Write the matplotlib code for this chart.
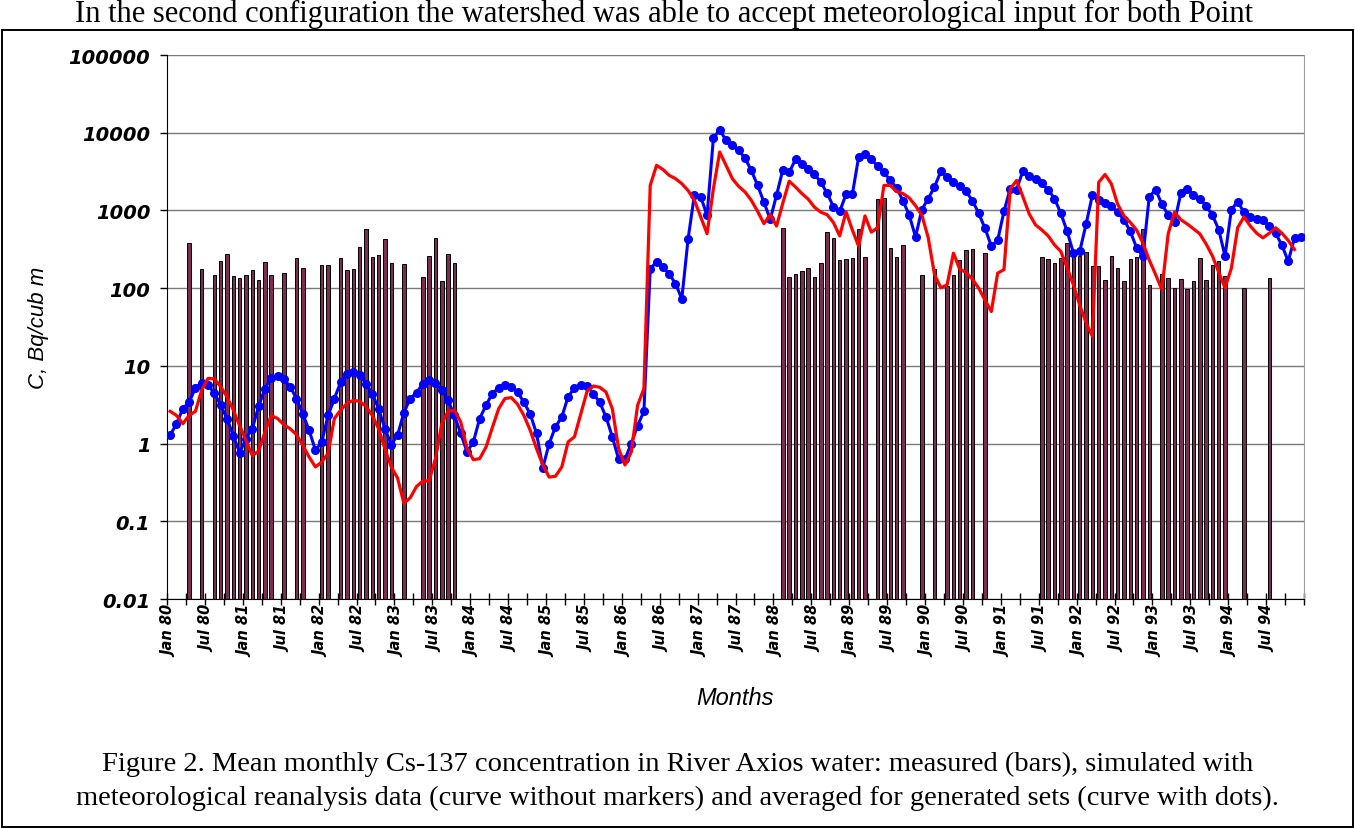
import matplotlib.pyplot as plt
from matplotlib.patches import Rectangle
import numpy as np

# month index: 0 = Jan 80 ... 179 = Dec 94
# averaged for generated sets (blue curve with dots), Bq/cub m
blue_avg = [1.28, 1.8, 2.8, 3.4, 5.2, 6.1, 5.6, 4.5, 3.1, 2.1, 1.26, 0.76,
            1.16, 1.56, 3.0, 5.1, 7.0, 7.4, 6.7, 5.4, 3.8, 2.4, 1.48, 0.82,
            1.05, 2.3, 3.8, 6.2, 7.9, 8.4, 7.6, 5.9, 4.4, 2.8, 1.56, 0.97,
            1.28, 2.5, 3.8, 4.5, 5.9, 6.5, 6.0, 4.9, 3.6, 2.3, 1.35, 0.78,
            1.05, 2.1, 3.1, 4.4, 5.2, 5.6, 5.4, 4.6, 3.4, 2.4, 1.35, 0.49,
            1.0, 1.64, 2.2, 4.0, 5.2, 5.6, 5.5, 4.4, 3.4, 2.2, 1.22, 0.63,
            0.63, 1.0, 1.7, 2.6, 178, 217, 187, 153, 114, 73, 433, 1600,
            1490, 865, 8550, 10900, 7960, 6870, 5920, 4720, 3270, 2100, 1280, 767,
            1575, 3350, 3080, 4540, 3940, 3420, 2940, 2300, 1670, 1117, 972, 1614,
            1614, 4890, 5270, 4540, 3730, 3100, 2430, 1955, 1340, 871, 457, 1025,
            1417, 1997, 3180, 2700, 2300, 2060, 1760, 1340, 922, 586, 349, 411,
            972, 1915, 1855, 3230, 2800, 2560, 2230, 1855, 1417, 922, 537, 282,
            297, 665, 1575, 1343, 1244, 1140, 941, 759, 537, 331, 258, 1493,
            1855, 1203, 871, 703, 1667, 1915, 1575, 1417, 1140, 871, 567, 258,
            1025, 1300, 941, 826, 783, 743, 630, 510, 357, 222, 443, 457]

# simulated with reanalysis data (red curve, no markers), ends Nov 94
red_sim = [2.6, 2.3, 1.8, 2.3, 2.6, 4.9, 6.9, 6.8, 5.4, 4.0, 2.7, 1.7,
           1.1, 0.7, 0.8, 1.4, 2.3, 2.1, 1.75, 1.55, 1.3, 0.95, 0.67, 0.5,
           0.58, 0.75, 2.1, 2.7, 3.3, 3.6, 3.5, 3.0, 2.3, 1.55, 0.86, 0.5,
           0.36, 0.17, 0.2, 0.28, 0.33, 0.33, 0.64, 1.8, 2.6, 2.7, 1.9, 0.86,
           0.62, 0.64, 0.9, 1.6, 2.8, 3.8, 3.9, 3.2, 2.3, 1.48, 0.86, 0.53,
           0.37, 0.38, 0.5, 1.05, 1.22, 2.4, 4.7, 5.5, 5.3, 4.6, 2.8, 0.86,
           0.53, 0.78, 3.1, 5.1, 2100, 3800, 3370, 2830, 2560, 2210, 1800, 1350,
           820, 502, 1900, 5650, 3800, 2560, 2040, 1730, 1350, 973, 676, 880,
           630, 1250, 2380, 2000, 1650, 1400, 1100, 950, 880, 700, 470, 960,
           560, 345, 850, 525, 600, 2100, 2100, 1750, 1650, 1450, 1150, 870,
           450, 150, 101, 110, 282, 175, 160, 130, 100, 70, 50, 156,
           173, 1900, 2430, 1500, 900, 652, 560, 470, 360, 297, 183, 110,
           60, 36, 24, 2300, 2900, 2200, 1200, 850, 700, 560, 380, 230,
           150, 96, 500, 950, 760, 670, 580, 500, 370, 260, 160, 101,
           180, 600, 826, 630, 510, 443, 510, 598, 510, 411, 314]

# measured (bars): month index and value
bar_month = [3, 5, 7, 8, 9, 10, 11, 12, 13, 14, 15, 16, 18, 20, 21, 24, 25, 27,
             28, 29, 30, 31, 32, 33, 34, 35, 37, 40, 41, 42, 43, 44, 45,
             97, 98, 99, 100, 101, 102, 103, 104, 105, 106, 107, 108, 109, 110,
             112, 113, 114, 115, 116, 119, 121, 123, 124, 125, 126, 127, 129,
             138, 139, 140, 141, 142, 143, 144, 145, 146, 147, 148, 149, 150,
             151, 152, 153, 154, 155, 157, 158, 159, 160, 161, 162, 163, 164,
             165, 166, 167, 170, 174]
bar_value = [382, 177, 149, 226, 278, 144, 136, 148, 171, 128, 220, 149, 158, 247, 182, 199, 197, 247,
             171, 177, 335, 570, 254, 270, 433, 208, 203, 140, 262, 446, 125, 278, 211,
             595, 139, 152, 164, 182, 139, 213, 528, 443, 228, 240, 247, 570, 254,
             1417, 1440, 329, 254, 355, 149, 175, 107, 149, 233, 306, 322, 286,
             252, 240, 211, 243, 385, 264, 256, 292, 191, 191, 129, 262, 182,
             124, 240, 252, 582, 109, 150, 135, 99, 130, 98, 124, 243, 127,
             200, 226, 144, 99, 135]

tick_labels = [f"{m} {y}" for y in range(80, 95) for m in ("Jan", "Jul")]
y_ticks = [0.01, 0.1, 1, 10, 100, 1000, 10000, 100000]
y_labels = ["0.01", "0.1", "1", "10", "100", "1000", "10000", "100000"]

fig = plt.figure(figsize=(13.55, 8.29), dpi=100)

# frame around the figure block
fig.patches.append(Rectangle((0.0015, 0.001), 0.997, 1 - 31 / 829 - 0.001,
                             transform=fig.transFigure, fill=False,
                             edgecolor='black', linewidth=1.4))

ax = fig.add_axes([167 / 1355, 1 - 600 / 829, 1137 / 1355, 544 / 829])

ax.bar(bar_month, np.array(bar_value) - 0.01, bottom=0.01, width=0.55,
       color='#7b2d52', edgecolor='black', linewidth=0.7, zorder=2)
ax.plot(range(len(blue_avg)), blue_avg, color='#0000ff', lw=2.2,
        marker='o', markersize=5.5, zorder=3)
ax.plot(range(len(red_sim)), red_sim, color='#ff0000', lw=2.3, zorder=4)

ax.set_yscale('log')
ax.set_ylim(0.01, 100000)
ax.set_xlim(-0.5, 179.5)

ax.set_yticks(y_ticks)
ax.set_yticklabels(y_labels, fontfamily='DejaVu Sans', fontweight='bold',
                   fontstyle='oblique', fontsize=14)
ax.yaxis.set_minor_locator(plt.NullLocator())
ax.tick_params(axis='y', direction='out', length=5, width=1, pad=7)

# ticks every 3 months on category boundaries, labels every 6 months
ax.set_xticks(np.arange(0, 180, 6))
ax.set_xticklabels(tick_labels, rotation=90, fontfamily='DejaVu Sans',
                   fontweight='bold', fontstyle='oblique', fontsize=10.5)
ax.set_xticks(np.arange(-0.5, 180, 3), minor=True)
ax.tick_params(axis='x', which='major', length=0, pad=4)
ax.tick_params(axis='x', which='minor', direction='inout', length=9, width=1)

ax.yaxis.grid(True, color='#7a7a7a', linewidth=1)
ax.set_axisbelow(True)
ax.spines['top'].set_visible(False)
ax.spines['right'].set_color('#a0a0a0')

ax.set_ylabel('C, Bq/cub m', fontfamily='Liberation Sans', fontstyle='italic',
              fontsize=16, labelpad=14)
ax.set_xlabel('Months', fontfamily='Liberation Sans', fontstyle='italic',
              fontsize=17, labelpad=22)

fig.text(75 / 1355, 1 - 22 / 829,
         'In the second configuration the watershed was able to accept meteorological input for both Point',
         fontfamily='Liberation Serif', fontsize=22, va='baseline')
fig.text(0.5, 1 - 764 / 829,
         'Figure 2. Mean monthly Cs-137 concentration in River Axios water: measured (bars), simulated with',
         fontfamily='Liberation Serif', fontsize=20.5, ha='center', va='center')
fig.text(0.5, 1 - 798 / 829,
         'meteorological reanalysis data (curve without markers) and averaged for generated sets (curve with dots).',
         fontfamily='Liberation Serif', fontsize=20.5, ha='center', va='center')

fig.savefig('out.png', dpi=100)
